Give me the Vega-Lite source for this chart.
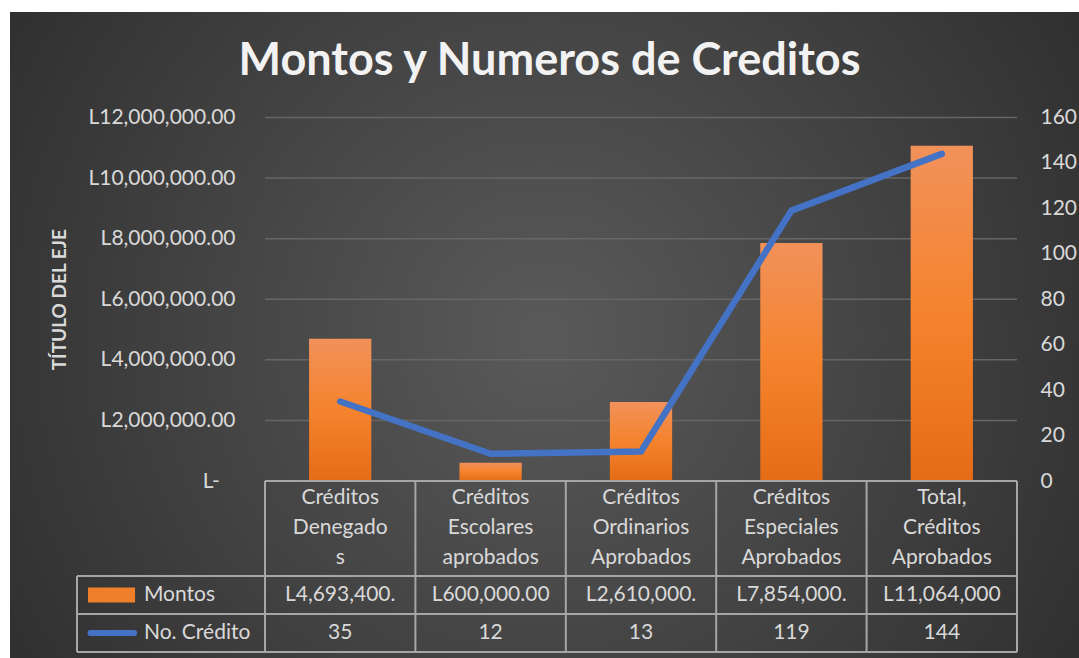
{
  "$schema": "https://vega.github.io/schema/vega-lite/v6.json",
  "width": 1069,
  "height": 646,
  "autosize": {"type": "none"},
  "padding": {"left": 10, "top": 12, "right": 0, "bottom": 0},
  "background": "#ffffff",
  "config": {"view": {"stroke": null}},
  "title": {
    "text": "Montos y Numeros de Creditos",
    "font": "Lato",
    "fontSize": 45,
    "fontWeight": "bold",
    "color": "#f2f2f2",
    "anchor": "middle",
    "baseline": "alphabetic",
    "offset": -108,
    "dx": 5
  },
  "data": {
    "values": [
      {"cat": "Créditos Denegados", "hdr": "Créditos\nDenegado\ns", "montos": 4693400, "creditos": 35, "mtxt": "L4,693,400.", "ctxt": "35"},
      {"cat": "Créditos Escolares aprobados", "hdr": "Créditos\nEscolares\naprobados", "montos": 600000, "creditos": 12, "mtxt": "L600,000.00", "ctxt": "12"},
      {"cat": "Créditos Ordinarios Aprobados", "hdr": "Créditos\nOrdinarios\nAprobados", "montos": 2610000, "creditos": 13, "mtxt": "L2,610,000.", "ctxt": "13"},
      {"cat": "Créditos Especiales Aprobados", "hdr": "Créditos\nEspeciales\nAprobados", "montos": 7854000, "creditos": 119, "mtxt": "L7,854,000.", "ctxt": "119"},
      {"cat": "Total, Créditos Aprobados", "hdr": "Total,\nCréditos\nAprobados", "montos": 11064000, "creditos": 144, "mtxt": "L11,064,000", "ctxt": "144"}
    ]
  },
  "resolve": {"scale": {"y": "independent"}},
  "layer": [
    {
      "data": {"values": [{}]},
      "mark": {"type": "rect", "fill": {"gradient": "radial", "x1": 0.5, "y1": 0.5, "r1": 0, "x2": 0.5, "y2": 0.5, "r2": 0.72, "stops": [{"offset": 0, "color": "#5a5a5a"}, {"offset": 1, "color": "#262626"}]}},
      "encoding": {}
    },
    {
      "data": {"values": [{"v": 2000000}, {"v": 4000000}, {"v": 6000000}, {"v": 8000000}, {"v": 10000000}, {"v": 12000000}]},
      "mark": {"type": "rule", "stroke": "#666666", "strokeWidth": 1.5},
      "encoding": {
        "y": {"field": "v", "type": "quantitative", "scale": {"domain": [0, 12000000], "range": [469, 105.5], "nice": false, "zero": false}, "axis": null},
        "x": {"datum": "Créditos Denegados", "type": "nominal", "bandPosition": 0, "scale": {"type": "band", "domain": ["Créditos Denegados", "Créditos Escolares aprobados", "Créditos Ordinarios Aprobados", "Créditos Especiales Aprobados", "Total, Créditos Aprobados"], "range": [255, 1007], "paddingInner": 0, "paddingOuter": 0}, "axis": null},
        "x2": {"datum": "Total, Créditos Aprobados", "bandPosition": 1}
      }
    },
    {
      "mark": {"type": "bar", "width": {"band": 0.414}, "fill": {"gradient": "linear", "x1": 0, "y1": 0, "x2": 0, "y2": 1, "stops": [{"offset": 0, "color": "#f1915a"}, {"offset": 0.5, "color": "#f5832d"}, {"offset": 1, "color": "#e56c17"}]}},
      "encoding": {
        "x": {"field": "cat", "type": "nominal", "axis": null, "sort": null},
        "y": {
          "field": "montos", "type": "quantitative",
          "scale": {"domain": [0, 12000000], "range": [469, 105.5], "nice": false, "zero": false},
          "axis": {
            "orient": "left", "offset": -255, "zindex": 2,
            "values": [0, 2000000, 4000000, 6000000, 8000000, 10000000, 12000000],
            "labelExpr": "datum.value === 0 ? 'L-\u2003\u200b' : 'L' + format(datum.value, ',.2f')",
            "ticks": false, "tickSize": 0, "domain": false, "grid": false,
            "labelPadding": 30, "labelFont": "Lato", "labelFontSize": 21, "labelColor": "#d9d9d9", "labelOverlap": false,
            "title": "TÍTULO DEL EJE", "titleFont": "Lato", "titleFontSize": 19, "titleFontWeight": "bold", "titleColor": "#d9d9d9",
            "titlePadding": 18
          }
        }
      }
    },
    {
      "mark": {"type": "rule", "stroke": "#a6a6a6", "strokeWidth": 2},
      "encoding": {
        "x": {"field": "cat", "type": "nominal", "bandPosition": 0, "axis": null},
        "y": {"datum": "h1", "type": "nominal", "bandPosition": 0, "scale": {"type": "band", "domain": ["h1", "h2", "h3", "h4", "h5", "m1", "m2", "c1", "c2"], "range": [469, 640], "paddingInner": 0, "paddingOuter": 0}, "axis": null},
        "y2": {"datum": "c2", "bandPosition": 1}
      }
    },
    {
      "data": {"values": [{}]},
      "mark": {"type": "rule", "stroke": "#a6a6a6", "strokeWidth": 2},
      "encoding": {
        "x": {"datum": "Total, Créditos Aprobados", "type": "nominal", "bandPosition": 1, "axis": null},
        "y": {"datum": "h1", "type": "nominal", "bandPosition": 0, "scale": {"type": "band", "domain": ["h1", "h2", "h3", "h4", "h5", "m1", "m2", "c1", "c2"], "range": [469, 640], "paddingInner": 0, "paddingOuter": 0}, "axis": null},
        "y2": {"datum": "c2", "bandPosition": 1}
      }
    },
    {
      "data": {"values": [{}]},
      "mark": {"type": "rule", "stroke": "#a6a6a6", "strokeWidth": 2},
      "encoding": {
        "x": {"datum": "Créditos Denegados", "type": "nominal", "bandPosition": -1.25, "axis": null},
        "y": {"datum": "m1", "type": "nominal", "bandPosition": 0, "scale": {"type": "band", "domain": ["h1", "h2", "h3", "h4", "h5", "m1", "m2", "c1", "c2"], "range": [469, 640], "paddingInner": 0, "paddingOuter": 0}, "axis": null},
        "y2": {"datum": "c2", "bandPosition": 1}
      }
    },
    {
      "data": {"values": [{}]},
      "mark": {"type": "rule", "stroke": "#a6a6a6", "strokeWidth": 2},
      "encoding": {
        "y": {"datum": "h1", "type": "nominal", "bandPosition": 0, "scale": {"type": "band", "domain": ["h1", "h2", "h3", "h4", "h5", "m1", "m2", "c1", "c2"], "range": [469, 640], "paddingInner": 0, "paddingOuter": 0}, "axis": null},
        "x": {"datum": "Créditos Denegados", "type": "nominal", "bandPosition": 0, "axis": null},
        "x2": {"datum": "Total, Créditos Aprobados", "bandPosition": 1}
      }
    },
    {
      "data": {"values": [{"r": "m1"}, {"r": "c1"}]},
      "mark": {"type": "rule", "stroke": "#a6a6a6", "strokeWidth": 2},
      "encoding": {
        "y": {"field": "r", "type": "nominal", "bandPosition": 0, "scale": {"type": "band", "domain": ["h1", "h2", "h3", "h4", "h5", "m1", "m2", "c1", "c2"], "range": [469, 640], "paddingInner": 0, "paddingOuter": 0}, "axis": null},
        "x": {"datum": "Créditos Denegados", "type": "nominal", "bandPosition": -1.25, "axis": null},
        "x2": {"datum": "Total, Créditos Aprobados", "bandPosition": 1}
      }
    },
    {
      "data": {"values": [{}]},
      "mark": {"type": "rule", "stroke": "#a6a6a6", "strokeWidth": 2},
      "encoding": {
        "y": {"datum": "c2", "type": "nominal", "bandPosition": 1, "scale": {"type": "band", "domain": ["h1", "h2", "h3", "h4", "h5", "m1", "m2", "c1", "c2"], "range": [469, 640], "paddingInner": 0, "paddingOuter": 0}, "axis": null},
        "x": {"datum": "Créditos Denegados", "type": "nominal", "bandPosition": -1.25, "axis": null},
        "x2": {"datum": "Total, Créditos Aprobados", "bandPosition": 1}
      }
    },
    {
      "mark": {"type": "line", "stroke": "#4472c4", "strokeWidth": 6.5, "strokeCap": "round", "strokeJoin": "round"},
      "encoding": {
        "x": {"field": "cat", "type": "nominal", "axis": null, "sort": null},
        "y": {
          "field": "creditos", "type": "quantitative",
          "scale": {"domain": [0, 160], "range": [469, 105.5], "nice": false, "zero": false},
          "axis": {
            "orient": "right", "offset": -62, "zindex": 2,
            "values": [0, 20, 40, 60, 80, 100, 120, 140, 160],
            "ticks": false, "tickSize": 0, "domain": false, "grid": false,
            "labelPadding": 23, "labelFont": "Lato", "labelFontSize": 21, "labelColor": "#d9d9d9", "labelOverlap": false,
            "title": null
          }
        }
      }
    },
    {
      "mark": {"type": "text", "font": "Lato", "fontSize": 21, "color": "#d9d9d9", "lineBreak": "\n", "lineHeight": 30, "baseline": "middle", "align": "center"},
      "encoding": {
        "x": {"field": "cat", "type": "nominal", "axis": null},
        "y": {"datum": "h1", "type": "nominal", "bandPosition": 0.9, "scale": {"type": "band", "domain": ["h1", "h2", "h3", "h4", "h5", "m1", "m2", "c1", "c2"], "range": [469, 640], "paddingInner": 0, "paddingOuter": 0}, "axis": null},
        "text": {"field": "hdr"}
      }
    },
    {
      "mark": {"type": "text", "font": "Lato", "fontSize": 21, "color": "#d9d9d9", "baseline": "middle", "align": "center"},
      "encoding": {
        "x": {"field": "cat", "type": "nominal", "axis": null},
        "y": {"datum": "m1", "type": "nominal", "bandPosition": 1, "scale": {"type": "band", "domain": ["h1", "h2", "h3", "h4", "h5", "m1", "m2", "c1", "c2"], "range": [469, 640], "paddingInner": 0, "paddingOuter": 0}, "axis": null},
        "text": {"field": "mtxt"}
      }
    },
    {
      "mark": {"type": "text", "font": "Lato", "fontSize": 21, "color": "#d9d9d9", "baseline": "middle", "align": "center"},
      "encoding": {
        "x": {"field": "cat", "type": "nominal", "axis": null},
        "y": {"datum": "c1", "type": "nominal", "bandPosition": 1, "scale": {"type": "band", "domain": ["h1", "h2", "h3", "h4", "h5", "m1", "m2", "c1", "c2"], "range": [469, 640], "paddingInner": 0, "paddingOuter": 0}, "axis": null},
        "text": {"field": "ctxt"}
      }
    },
    {
      "data": {"values": [{}]},
      "mark": {"type": "rule", "stroke": "#f07f2c", "strokeWidth": 15, "strokeCap": "butt"},
      "encoding": {
        "y": {"datum": "m1", "type": "nominal", "bandPosition": 1, "scale": {"type": "band", "domain": ["h1", "h2", "h3", "h4", "h5", "m1", "m2", "c1", "c2"], "range": [469, 640], "paddingInner": 0, "paddingOuter": 0}, "axis": null},
        "x": {"datum": "Créditos Denegados", "type": "nominal", "bandPosition": -1.177, "axis": null},
        "x2": {"datum": "Créditos Denegados", "bandPosition": -0.864}
      }
    },
    {
      "data": {"values": [{}]},
      "mark": {"type": "rule", "stroke": "#4472c4", "strokeWidth": 6, "strokeCap": "round"},
      "encoding": {
        "y": {"datum": "c1", "type": "nominal", "bandPosition": 1, "scale": {"type": "band", "domain": ["h1", "h2", "h3", "h4", "h5", "m1", "m2", "c1", "c2"], "range": [469, 640], "paddingInner": 0, "paddingOuter": 0}, "axis": null},
        "x": {"datum": "Créditos Denegados", "type": "nominal", "bandPosition": -1.16, "axis": null},
        "x2": {"datum": "Créditos Denegados", "bandPosition": -0.87}
      }
    },
    {
      "data": {"values": [{"r": "m1", "label": "Montos"}, {"r": "c1", "label": "No. Crédito"}]},
      "mark": {"type": "text", "font": "Lato", "fontSize": 21, "color": "#d9d9d9", "baseline": "middle", "align": "left"},
      "encoding": {
        "y": {"field": "r", "type": "nominal", "bandPosition": 1, "scale": {"type": "band", "domain": ["h1", "h2", "h3", "h4", "h5", "m1", "m2", "c1", "c2"], "range": [469, 640], "paddingInner": 0, "paddingOuter": 0}, "axis": null},
        "x": {"datum": "Créditos Denegados", "type": "nominal", "bandPosition": -0.805, "axis": null},
        "text": {"field": "label"}
      }
    }
  ]
}
